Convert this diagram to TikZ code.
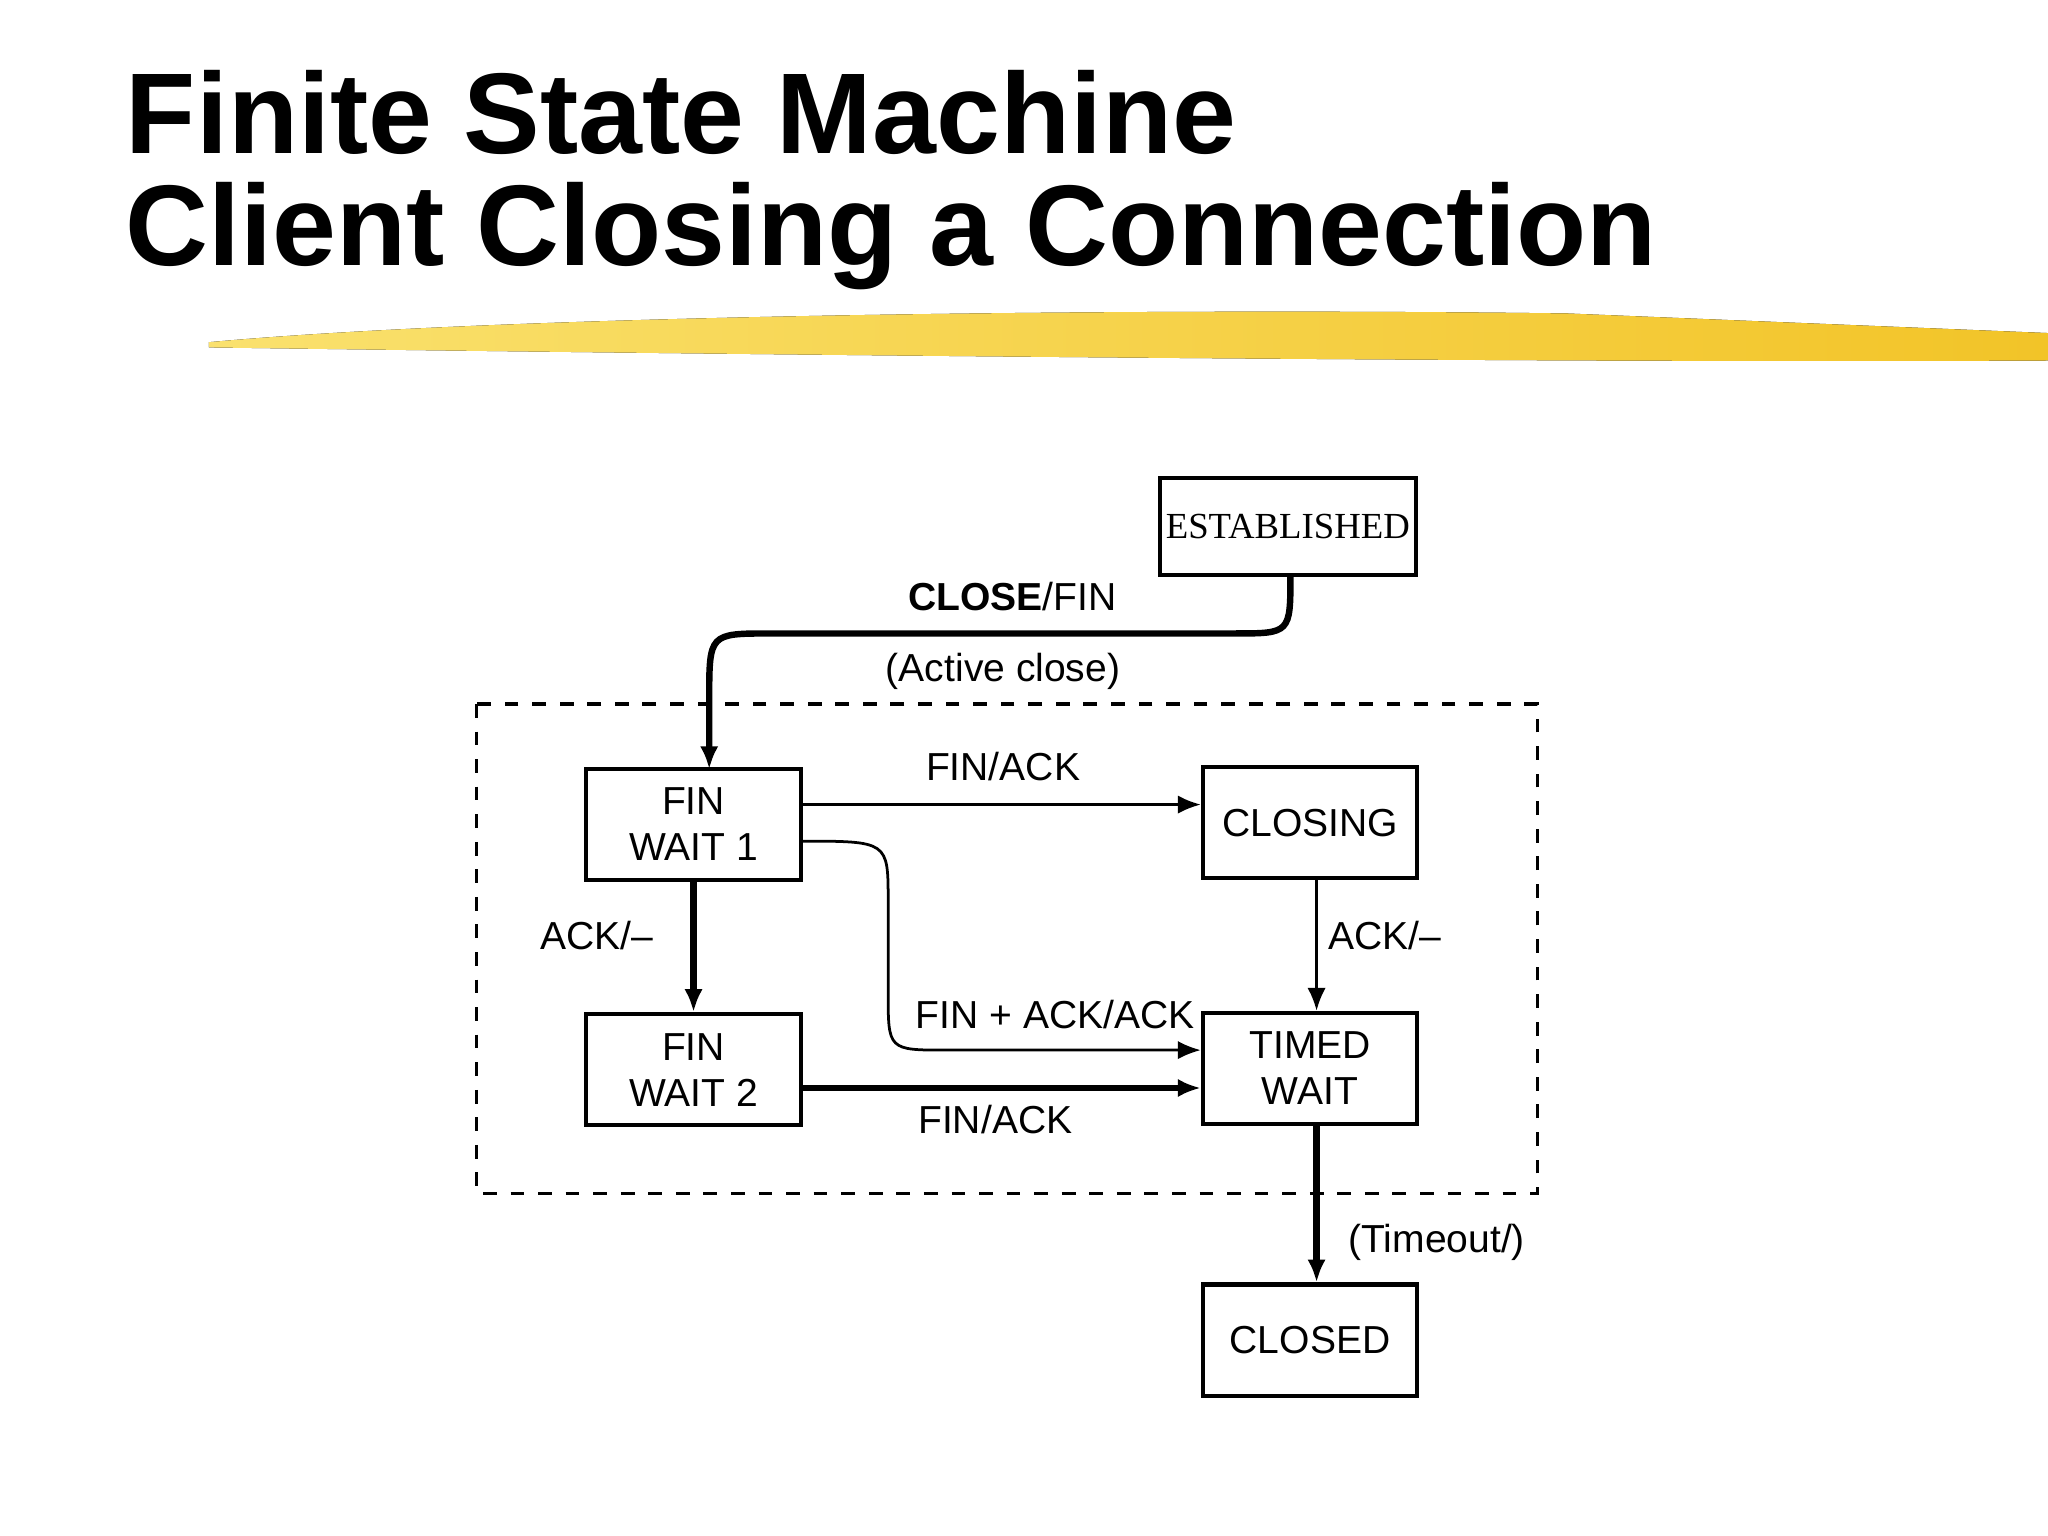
\documentclass[tikz,border=0pt]{standalone}
\usepackage{fontspec}
\setmainfont{Liberation Sans}
\newfontfamily\serifx{Liberation Serif}
\usetikzlibrary{arrows.meta}
\definecolor{brush}{RGB}{242,196,40}
\definecolor{brushl}{RGB}{250,225,110}
\tikzset{
 st/.style={draw,line width=0.9pt,minimum width=1.64cm,minimum height=0.85cm,align=center,font=\fontsize{8.5}{10}\selectfont,inner sep=1pt},
 lab/.style={font=\fontsize{8.5}{10}\selectfont,inner sep=1pt},
 thin/.style={line width=0.6pt,-{Latex[length=5pt,width=4pt]}},
 thick/.style={line width=1.4pt,-{Latex[length=5pt,width=4pt]}},
}
\begin{document}
\begin{tikzpicture}[x=0.01cm,y=-0.01cm]
\useasboundingbox (0,0) rectangle (1568,1176);
\node[anchor=west,font=\bfseries\fontsize{25}{30}\selectfont] (t1) at (84,86) {Finite State Machine};
\node[anchor=west,font=\bfseries\fontsize{25}{30}\selectfont] (t2) at (84,181) {Client Closing a Connection};
\fill[left color=brushl,right color=brush] (160,262) .. controls (400,240) and (900,236) .. (1200,240) -- (1568,255) -- (1568,276) .. controls (1200,278) and (600,272) .. (160,266) -- cycle;
\draw[dashed,line width=0.7pt] (365,539) rectangle (1177,914);
\node[st,minimum width=1.96cm,minimum height=0.74cm,font=\serifx\fontsize{8}{10}\selectfont] (est) at (986,403) {ESTABLISHED};
\node[st] (fw1) at (531,631) {FIN\\WAIT 1};
\node[st] (cl) at (1003,630) {CLOSING};
\node[st] (fw2) at (531,819) {FIN\\WAIT 2};
\node[st] (tw) at (1003,818) {TIMED\\WAIT};
\node[st] (cd) at (1003,1026) {CLOSED};
\coordinate (e1) at (988,440);
\coordinate (f1) at (543,589);
\draw[thick] (e1) .. controls (988,485) .. (945,485) -- (590,485) .. controls (543,485) .. (543,535) -- (f1);
\node[lab] (l1) at (775,457) {\textbf{CLOSE}/FIN};
\node[lab] (l2) at (768,514) {(Active close)};
\draw[thin] (fw1.east|-0,616) -- (cl.west|-0,616);
\node[lab] (l3) at (768,587) {FIN/ACK};
\draw[thin] (613,644) .. controls (680,644) .. (680,690) -- (680,760) .. controls (680,804) .. (725,804) -- (tw.west|-0,804);
\node[lab] (l4) at (808,777) {FIN + ACK/ACK};
\draw[thick] (fw1.south) -- (fw2.north);
\node[lab] (l5) at (457,716) {ACK/--};
\draw[thick] (fw2.east|-0,833) -- (tw.west|-0,833);
\node[lab] (l6) at (762,857) {FIN/ACK};
\draw[thin] (cl.south-|1008,0) -- (tw.north-|1008,0);
\node[lab] (l7) at (1060,716) {ACK/--};
\draw[thick] (tw.south-|1008,0) -- (cd.north-|1008,0);
\node[lab] (l8) at (1100,951) {(Timeout/)};
\end{tikzpicture}
\end{document}
